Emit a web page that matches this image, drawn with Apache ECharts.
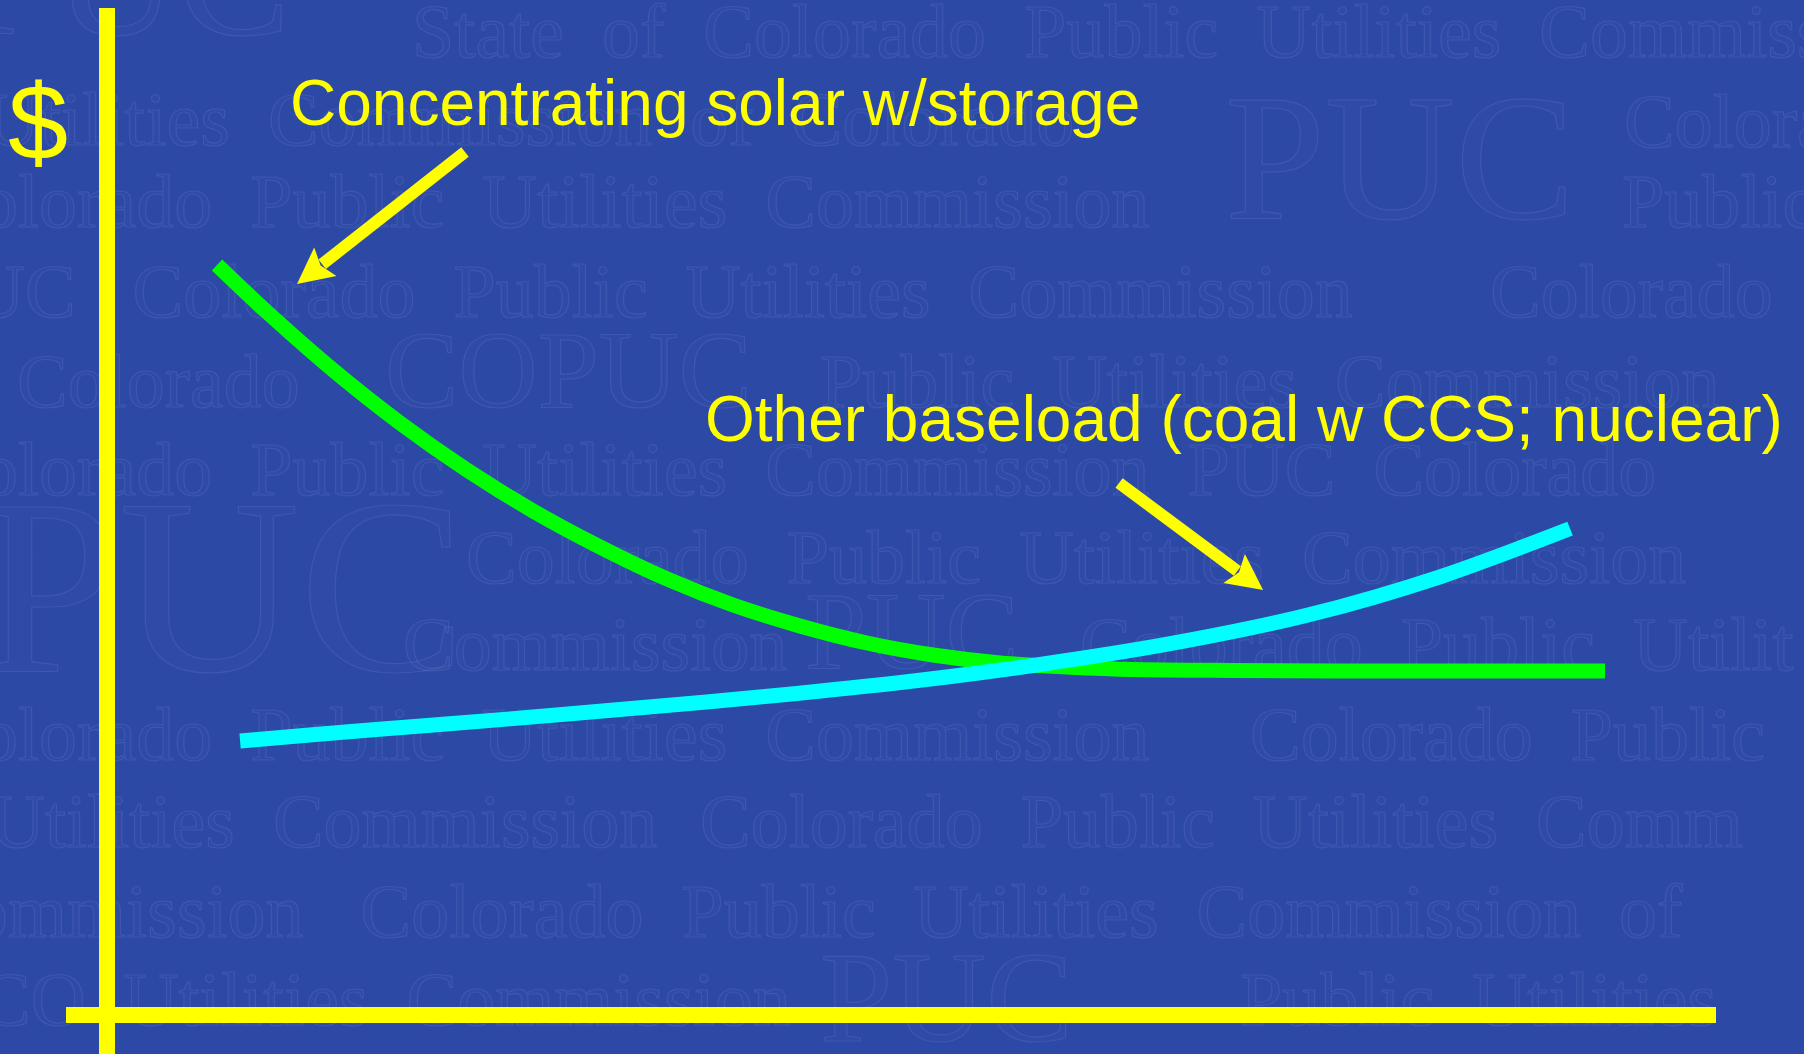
<!DOCTYPE html>
<html lang="en">
  <head>
    <meta charset="UTF-8" />
    <title>solar vs baseload cost</title>
    <style>
      html,
      body {
        margin: 0;
        padding: 0;
        background-color: #2d49a6;
      }
      #main {
        width: 1804px;
        height: 1054px;
      }
    </style>
  </head>
  <body>
    <div id="main"></div>
    <script src="https://cdn.jsdelivr.net/npm/echarts@6/dist/echarts.min.js"></script>
    <script>
      // curve points (x: time, y: $)
      const solarX = [6.84, 9.94, 14.05, 18.21, 22.37, 26.48, 30.64, 34.8, 38.91, 43.07, 47.23, 51.34, 55.5, 59.66, 63.77, 69.98, 76.2, 82.41, 93.1];
      const solarY = [74.48, 69.81, 64.05, 58.79, 54.12, 50.05, 46.47, 43.3, 40.71, 38.63, 36.94, 35.75, 34.96, 34.56, 34.31, 34.21, 34.16, 34.16, 34.16];
      const baseX = [8.27, 16.53, 24.86, 33.13, 41.39, 49.72, 57.99, 66.25, 74.58, 82.85, 90.93];
      const baseY = [27.21, 28.33, 29.38, 30.51, 31.7, 33.09, 34.81, 36.92, 39.69, 43.52, 48.3];

      // arrows: [tailX, tailY, tipX, tipY]
      const arrowSolar = [22.25, 85.7, 11.81, 72.59];
      const arrowBase = [62.9, 52.83, 71.85, 42.2];

      const labelSolar = "Concentrating solar w/storage";
      const labelBase = "Other baseload (coal w CCS; nuclear)";
      const yName = "$";

      const yellow = "#ffff00";

      // faint embossed background text: [x, baseline, size, text]
      const watermarkRows = [
        [-40, 45, 170, "PUC"],
        [412, 62, 76, "State  of  Colorado  Public  Utilities  Commission"],
        [-15, 150, 76, "Utilities  Commission  of  Colorado"],
        [1225, 230, 180, "PUC"],
        [1624, 152, 76, "Colorado"],
        [-20, 232, 76, "olorado  Public  Utilities  Commission"],
        [1622, 232, 76, "Public"],
        [-30, 322, 76, "UC   Colorado  Public  Utilities  Commission"],
        [1490, 322, 76, "Colorado"],
        [17, 412, 76, "Colorado"],
        [385, 414, 110, "COPUC"],
        [820, 412, 76, "Public  Utilities  Commission"],
        [-20, 500, 76, "olorado  Public  Utilities  Commission  PUC  Colorado"],
        [-20, 688, 250, "PUC"],
        [466, 588, 76, "Colorado  Public  Utilities  Commission"],
        [403, 675, 76, "Commission"],
        [805, 675, 110, "PUC"],
        [1080, 675, 76, "Colorado  Public  Utilit"],
        [-20, 765, 76, "olorado  Public  Utilities  Commission"],
        [1250, 765, 76, "Colorado  Public"],
        [-10, 852, 76, "Utilities  Commission"],
        [700, 852, 76, "Colorado  Public  Utilities  Comm"],
        [-30, 942, 76, "ommission   Colorado  Public  Utilities  Commission  of"],
        [-20, 1030, 76, "CO  Utilities  Commission"],
        [820, 1050, 130, "PUC"],
        [1240, 1030, 76, "Public  Utilities"],
      ];

      const mchart = echarts.init(document.getElementById("main"));

      const graphics = watermarkRows.map((r) => ({
        type: "text",
        z: -10,
        silent: true,
        style: {
          x: r[0],
          y: r[1] - 0.33 * r[2],
          text: r[3],
          font: r[2] + 'px "Liberation Serif"',
          fill: "rgba(255,255,255,0.015)",
          stroke: "rgba(150,170,230,0.15)",
          lineWidth: 1.2,
          verticalAlign: "middle",
        },
      }));

      // annotation texts
      graphics.push(
        {
          type: "text",
          style: { x: 290, y: 107, text: labelSolar, font: '64px "Liberation Sans"', fill: yellow, verticalAlign: "middle" },
        },
        {
          type: "text",
          style: { x: 705, y: 423, text: labelBase, font: '64px "Liberation Sans"', fill: yellow, verticalAlign: "middle" },
        },
        {
          type: "text",
          style: { x: 8, y: 130, text: yName, font: '108px "Liberation Sans"', fill: yellow, verticalAlign: "middle" },
        }
      );

      function toPairs(xs, ys) {
        return xs.map((x, i) => [x, ys[i]]);
      }

      function renderArrow(params, api) {
        const tail = api.coord([api.value(0), api.value(1)]);
        const tip = api.coord([api.value(2), api.value(3)]);
        const dx = tip[0] - tail[0];
        const dy = tip[1] - tail[1];
        const len = Math.sqrt(dx * dx + dy * dy);
        const ux = dx / len;
        const uy = dy / len;
        const headLen = 36;
        const halfW = 18;
        const bx = tip[0] - ux * headLen;
        const by = tip[1] - uy * headLen;
        return {
          type: "group",
          children: [
            {
              type: "line",
              shape: { x1: tail[0], y1: tail[1], x2: bx + ux * 4, y2: by + uy * 4 },
              style: { stroke: yellow, lineWidth: 12 },
            },
            {
              type: "polygon",
              shape: {
                points: [
                  [tip[0], tip[1]],
                  [bx - uy * halfW, by + ux * halfW],
                  [bx + ux * 6, by + uy * 6],
                  [bx + uy * halfW, by - ux * halfW],
                ],
              },
              style: { fill: yellow },
            },
          ],
        };
      }

      const option = {
        backgroundColor: "#2d49a6",
        animation: false,
        graphic: graphics,
        grid: {
          left: 66,
          right: 88,
          top: 8,
          bottom: 0,
        },
        xAxis: {
          type: "value",
          min: -2.548,
          max: 100,
          axisLine: { show: true, onZero: true, lineStyle: { color: yellow, width: 16, cap: "butt" } },
          axisTick: { show: false },
          axisLabel: { show: false },
          splitLine: { show: false },
        },
        yAxis: {
          type: "value",
          min: -3.873,
          max: 100,
          axisLine: { show: true, onZero: true, lineStyle: { color: yellow, width: 16, cap: "butt" } },
          axisTick: { show: false },
          axisLabel: { show: false },
          splitLine: { show: false },
        },
        series: [
          {
            name: labelSolar,
            type: "line",
            data: toPairs(solarX, solarY),
            smooth: 0.3,
            symbol: "none",
            lineStyle: { color: "#00ff00", width: 15, join: "round" },
          },
          {
            name: labelBase,
            type: "line",
            data: toPairs(baseX, baseY),
            smooth: 0.3,
            symbol: "none",
            lineStyle: { color: "#00ffff", width: 15, join: "round" },
          },
          {
            type: "custom",
            renderItem: renderArrow,
            data: [arrowSolar, arrowBase],
            z: 5,
          },
        ],
      };
      mchart.setOption(option);
    </script>
  </body>
</html>
